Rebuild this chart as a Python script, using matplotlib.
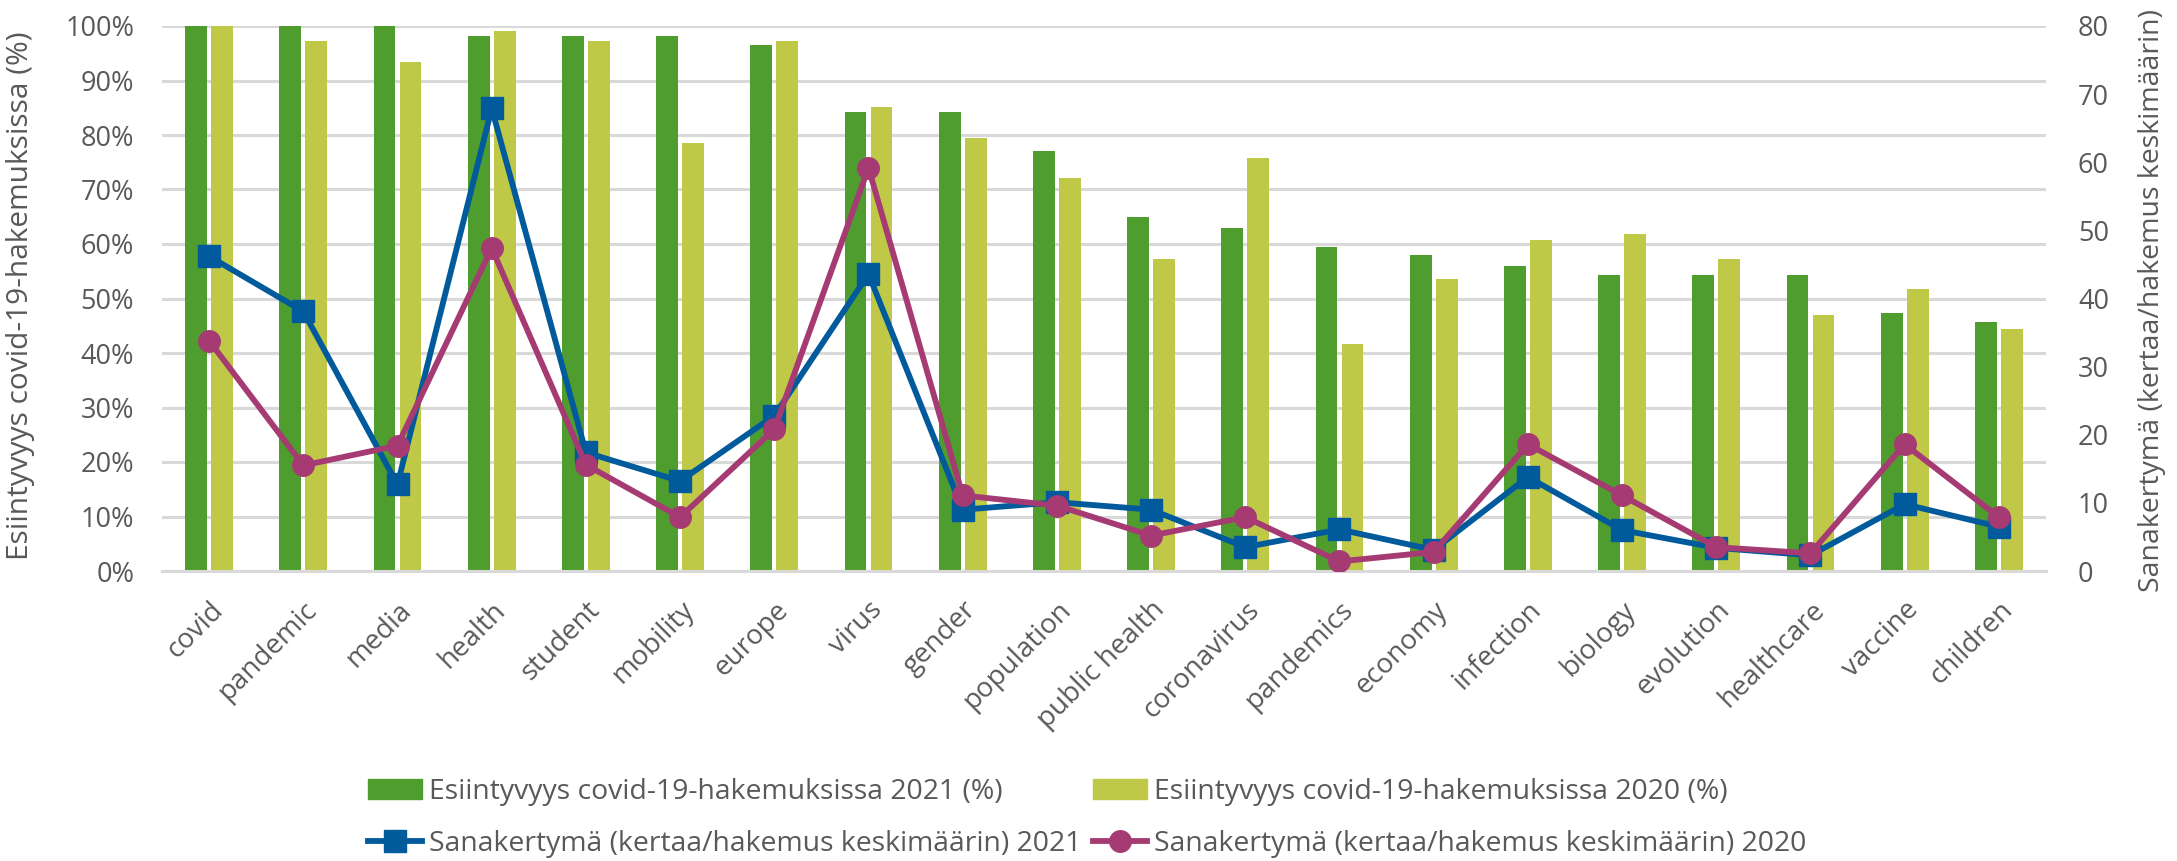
import numpy as np
import matplotlib
matplotlib.use("Agg")
import matplotlib.pyplot as plt
from matplotlib.ticker import PercentFormatter
from matplotlib.lines import Line2D
from matplotlib.patches import Patch

plt.rcParams["font.family"] = ["Open Sans", "DejaVu Sans"]

# ---- data -----------------------------------------------------------
categories = ["covid", "pandemic", "media", "health", "student", "mobility",
              "europe", "virus", "gender", "population", "public health",
              "coronavirus", "pandemics", "economy", "infection", "biology",
              "evolution", "healthcare", "vaccine", "children"]

# occurrence in covid-19 applications (%)
occ_2021 = [100, 100, 100, 98.1, 98.1, 98.1, 96.5, 84.2, 84.2, 77.1,
            64.9, 63.0, 59.4, 57.9, 56.0, 54.3, 54.3, 54.3, 47.3, 45.6]
occ_2020 = [100, 97.2, 93.4, 99.0, 97.2, 78.6, 97.2, 85.1, 79.5, 72.2,
            57.3, 75.7, 41.6, 53.5, 60.8, 61.8, 57.3, 47.0, 51.7, 44.4]

# word frequency (times / application on average)
freq_2021 = [46.2, 38.1, 12.7, 67.9, 17.4, 13.2, 22.8, 43.6, 9.0, 10.1,
             9.0, 3.5, 6.1, 3.1, 13.8, 6.0, 3.4, 2.3, 9.8, 6.5]
freq_2020 = [33.8, 15.5, 18.4, 47.4, 15.6, 7.9, 20.8, 59.2, 11.1, 9.6,
             5.2, 7.9, 1.4, 2.8, 18.6, 11.1, 3.5, 2.6, 18.6, 7.9]

lbl_bar21 = "Esiintyvyys covid-19-hakemuksissa 2021 (%)"
lbl_bar20 = "Esiintyvyys covid-19-hakemuksissa 2020 (%)"
lbl_line21 = "Sanakertymä (kertaa/hakemus keskimäärin) 2021"
lbl_line20 = "Sanakertymä (kertaa/hakemus keskimäärin) 2020"

# ---- style ----------------------------------------------------------
C_DARK = "#509D2F"
C_LIGHT = "#BFC947"
C_BLUE = "#015A9B"
C_PINK = "#A53B72"
C_TEXT = "#595959"
C_GRID = "#D9D9D9"
FS = 19.5       # tick labels
FS_LEG = 20.4   # legend

W, H = 2177, 861
fig = plt.figure(figsize=(W / 100, H / 100), dpi=100)
ax = fig.add_axes([162 / W, 1 - 571 / H, (2046 - 162) / W, (571 - 26) / H])
ax2 = ax.twinx()

x = np.arange(len(categories))
bw = 0.23
off = 0.138
ax.bar(x - off, np.array(occ_2021) / 100, width=bw, color=C_DARK, zorder=2)
ax.bar(x + off, np.array(occ_2020) / 100, width=bw, color=C_LIGHT, zorder=2)

ax2.plot(x, freq_2021, color=C_BLUE, lw=4.2, marker="s", ms=15.5, zorder=3)
ax2.plot(x, freq_2020, color=C_PINK, lw=4.2, marker="o", ms=15.5, zorder=4)

ax.set_xlim(-0.5, len(categories) - 0.5)
ax.set_ylim(0, 1)
ax.set_yticks(np.arange(0, 1.01, 0.1))
ax.yaxis.set_major_formatter(PercentFormatter(1.0, decimals=0))
ax2.set_ylim(0, 80)
ax2.set_yticks(np.arange(0, 81, 10))

ax.grid(axis="y", color=C_GRID, lw=2.2, zorder=0)
ax.set_axisbelow(True)
for a in (ax, ax2):
    for s in a.spines.values():
        s.set_visible(False)
ax.spines["bottom"].set_visible(True)
ax.spines["bottom"].set_color(C_GRID)
ax.spines["bottom"].set_linewidth(2.2)

ax.set_xticks(x)
ax.set_xticklabels(categories, rotation=45, ha="right", va="top",
                   rotation_mode="anchor", fontsize=20, color=C_TEXT)
ax.tick_params(axis="x", length=0, pad=18)
ax.tick_params(axis="y", length=0, pad=20, labelsize=FS, labelcolor=C_TEXT)
ax2.tick_params(axis="y", length=0, pad=23, labelsize=FS, labelcolor=C_TEXT)

fig.text(21 / W, 1 - 296 / H, "Esiintyvyys covid-19-hakemuksissa (%)",
         rotation=90, ha="center", va="center", fontsize=21.5, color=C_TEXT)
fig.text(2152 / W, 1 - 300 / H, "Sanakertymä (kertaa/hakemus keskimäärin)",
         rotation=90, ha="center", va="center", fontsize=20.5, color=C_TEXT)

handles = [
    Patch(color=C_DARK, label=lbl_bar21),
    Line2D([], [], color=C_BLUE, lw=4.2, marker="s", ms=15.5, label=lbl_line21),
    Patch(color=C_LIGHT, label=lbl_bar20),
    Line2D([], [], color=C_PINK, lw=4.2, marker="o", ms=15.5, label=lbl_line20),
]
leg = fig.legend(handles=handles, ncol=2, loc="center",
                 bbox_to_anchor=(1087 / W, 1 - 818 / H), frameon=False,
                 fontsize=FS_LEG, handlelength=1.9, handleheight=0.7,
                 handletextpad=0.25, columnspacing=0.4, labelspacing=0.85)
for t in leg.get_texts():
    t.set_color(C_TEXT)

fig.savefig("out.png", dpi=100)
